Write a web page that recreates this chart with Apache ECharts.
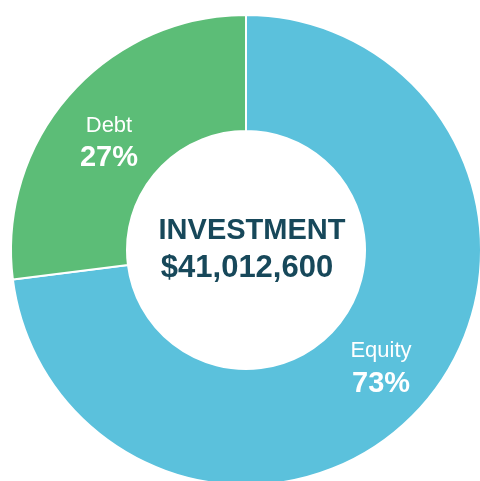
<!DOCTYPE html>
<html>
<head>
<meta charset="utf-8">
<script src="https://cdn.jsdelivr.net/npm/echarts@6/dist/echarts.min.js"></script>
<style>
  html, body { margin: 0; padding: 0; background: #fff; }
  #chart { width: 480px; height: 481px; }
</style>
</head>
<body>
<div id="chart"></div>
<script>
// slices, clockwise from 12 o'clock
const categories = ['Equity', 'Debt'];
const shares = [73, 27];
const colors = ['#5bc1dc', '#5cbd77'];
const centerTitle = 'INVESTMENT';
const centerAmount = '$41,012,600';

const chart = echarts.init(document.getElementById('chart'));

const FONT = '"Liberation Sans", Arial, sans-serif';

chart.setOption({
    backgroundColor: '#fff',
    animation: false,
    graphic: [
        {
            type: 'text', x: 252, y: 231,
            style: {
                text: centerTitle, fill: '#17485a', align: 'center', verticalAlign: 'middle',
                font: 'bold 29px ' + FONT
            }
        },
        {
            type: 'text', x: 247, y: 268,
            style: {
                text: centerAmount, fill: '#17485a', align: 'center', verticalAlign: 'middle',
                font: 'bold 31px ' + FONT
            }
        }
    ],
    series: [{
        type: 'pie',
        center: [246, 250],
        radius: [119, 235],
        startAngle: 90,
        clockwise: true,
        itemStyle: { borderColor: '#fff', borderWidth: 2 },
        label: {
            position: 'inside',
            formatter: p => '{n|' + p.name + '}\n{v|' + p.value + '%}',
            rich: {
                n: { color: '#fff', fontSize: 22, fontFamily: FONT, lineHeight: 33 },
                v: { color: '#fff', fontSize: 29, fontWeight: 'bold', fontFamily: FONT, lineHeight: 33 }
            }
        },
        labelLine: { show: false },
        emphasis: { disabled: true },
        data: categories.map((c, i) => ({
            name: c,
            value: shares[i],
            itemStyle: { color: colors[i] },
            label: c === 'Debt' ? { offset: [-2, 11] } : { offset: [0, -2] }
        }))
    }]
});
</script>
</body>
</html>
